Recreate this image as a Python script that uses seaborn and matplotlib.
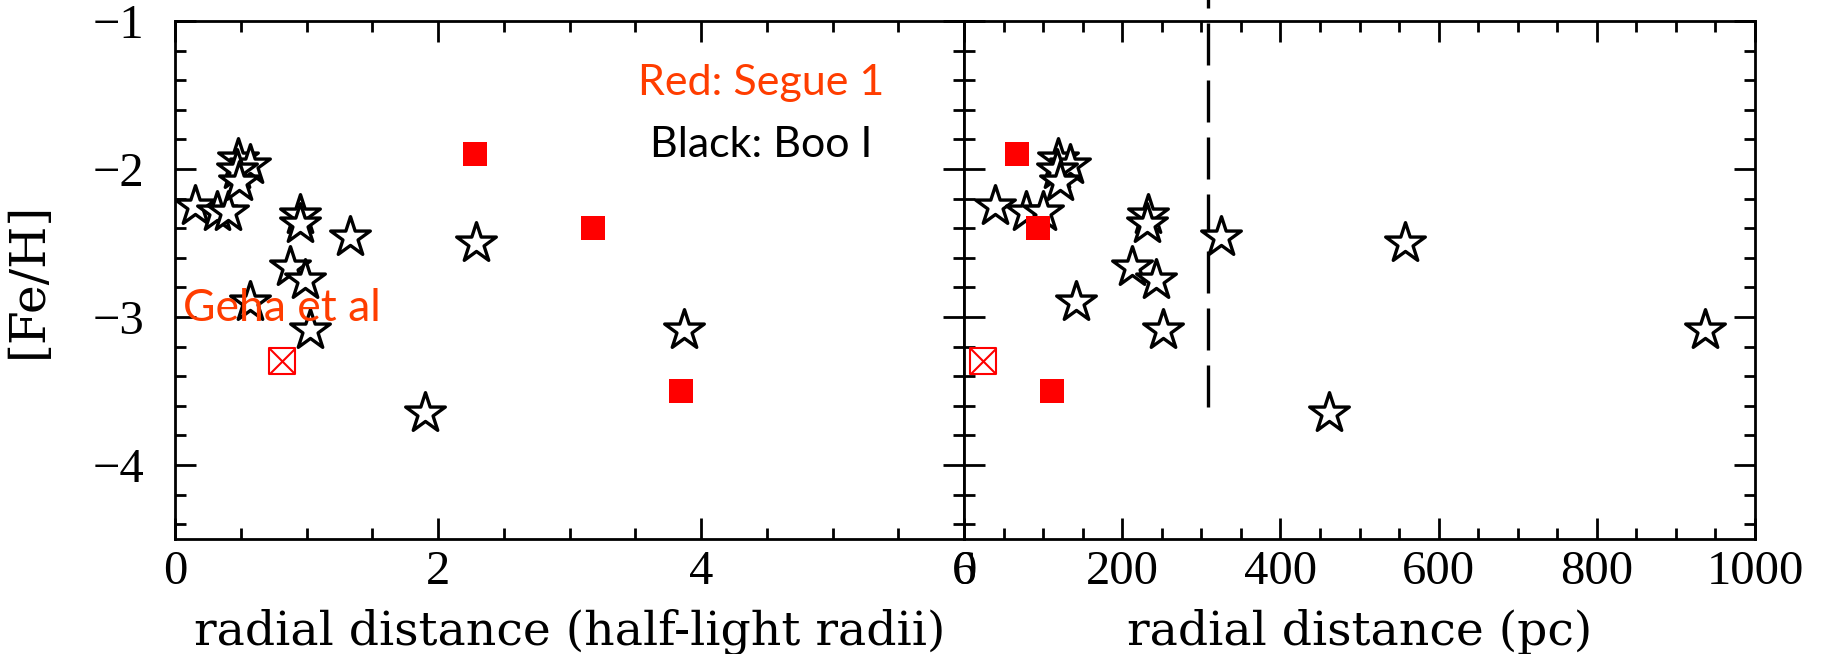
import matplotlib
matplotlib.use("Agg")
import matplotlib.pyplot as plt
from matplotlib.ticker import MultipleLocator
import numpy as np
import pandas as pd
import seaborn as sns

# Boo I member stars: radius in half-light radii, radius in pc, [Fe/H]
boo_rhalf = [0.15, 0.32, 0.40, 0.48, 0.57, 0.47, 0.49, 0.95, 0.95, 1.33,
             2.29, 0.875, 0.99, 0.57, 1.03, 1.90, 3.87]
boo_pc = [39, 79, 100, 119, 134, 117, 121, 233, 231, 325,
          557, 213, 243, 142, 251, 461, 937]
boo_feh = [-2.25, -2.29, -2.29, -1.93, -1.97, -2.01, -2.09, -2.31, -2.37, -2.46,
           -2.50, -2.66, -2.75, -2.90, -3.09, -3.65, -3.09]

# Segue 1 stars
seg_rhalf = [2.28, 3.18, 3.85]
seg_pc = [67, 93, 111]
seg_feh = [-1.90, -2.40, -3.50]

# Geha et al. Segue 1 star
geha_rhalf = [0.81]
geha_pc = [24]
geha_feh = [-3.30]

# truncation radius marked in the pc panel
cut_pc = 308
cut_feh = [-3.61, -0.80]

sns.set_style("ticks")
plt.rcParams["font.family"] = ["DejaVu Serif"]
plt.rcParams["axes.labelcolor"] = "black"

boo = pd.DataFrame({"rh": boo_rhalf, "pc": boo_pc, "feh": boo_feh})
seg = pd.DataFrame({"rh": seg_rhalf, "pc": seg_pc, "feh": seg_feh})
geha = pd.DataFrame({"rh": geha_rhalf, "pc": geha_pc, "feh": geha_feh})

W, H = 1825, 654
fig = plt.figure(figsize=(W / 100, H / 100), dpi=100)
bottom = 1 - 539 / H
height = 518 / H
ax1 = fig.add_axes([175 / W, bottom, 789 / W, height])
ax2 = fig.add_axes([964 / W, bottom, 791 / W, height])

red = "#FF0000"
note = "#FF3D00"
tick_font = 35
label_font = 34

for ax, xcol in ((ax1, "rh"), (ax2, "pc")):
    sns.scatterplot(data=boo, x=xcol, y="feh", ax=ax, marker="*", s=900,
                    facecolor="white", edgecolor="black", linewidth=2.4, zorder=3)
    sns.scatterplot(data=seg, x=xcol, y="feh", ax=ax, marker="s", s=280,
                    color=red, edgecolor=red, linewidth=0, zorder=4)
    sns.scatterplot(data=geha, x=xcol, y="feh", ax=ax, marker="s", s=330,
                    facecolor="white", edgecolor=red, linewidth=1.5, zorder=4)
    sns.scatterplot(data=geha, x=xcol, y="feh", ax=ax, marker="x", s=330,
                    color=red, linewidth=1.5, zorder=5)
    ax.set_ylim(-4.5, -1)
    ax.yaxis.set_major_locator(MultipleLocator(1))
    ax.yaxis.set_minor_locator(MultipleLocator(0.2))
    ax.tick_params(which="both", direction="in", top=True, right=True,
                   width=2.0, colors="black")
    ax.tick_params(which="major", length=15)
    ax.tick_params(which="minor", length=8)
    ax.tick_params(axis="x", pad=8)
    ax.tick_params(axis="y", pad=22)
    for sp in ax.spines.values():
        sp.set_linewidth(2.0)
        sp.set_color("black")
    ax.set_ylabel("")

ax1.set_xlim(0, 6)
ax1.xaxis.set_major_locator(MultipleLocator(2))
ax1.xaxis.set_minor_locator(MultipleLocator(0.5))
ax1.set_xlabel("radial distance (half-light radii)", fontsize=label_font)
ax1.set_ylabel("[Fe/H]", fontsize=35)
ax1.yaxis.set_label_coords(-0.156, 0.5)

ax2.set_xlim(0, 1000)
ax2.xaxis.set_major_locator(MultipleLocator(200))
ax2.xaxis.set_minor_locator(MultipleLocator(50))
ax2.set_xlabel("radial distance (pc)", fontsize=label_font)
ax2.tick_params(axis="y", labelleft=False)

for ax in (ax1, ax2):
    ax.xaxis.set_label_coords(0.5, -0.1795)
    ax.xaxis.label.set_va("center")
    ax.tick_params(labelsize=tick_font)
    for lab in ax.get_xticklabels() + ax.get_yticklabels():
        lab.set_family("Liberation Serif")

ax2.plot([cut_pc, cut_pc], cut_feh, color="black", lw=2.4,
         linestyle=(0, (12.6, 4.5)), clip_on=False, zorder=2)

ax1.text(4.46, -1.50, "Red: Segue 1", color=note, fontsize=31, family="Lato",
         ha="center", va="baseline", zorder=6)
ax1.text(4.46, -1.92, "Black: Boo I", color="black", fontsize=31, family="Lato",
         ha="center", va="baseline", zorder=6)
ax1.text(0.06, -3.03, "Geha et al", color=note, fontsize=32, family="Lato",
         ha="left", va="baseline", zorder=6)

fig.savefig("out.png", dpi=100)
